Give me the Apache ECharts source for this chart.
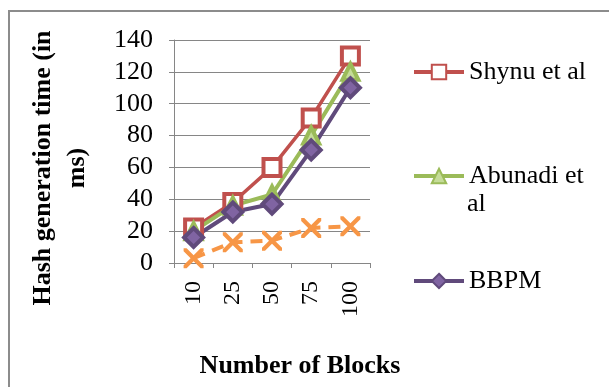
<!DOCTYPE html>
<html><head><meta charset="utf-8">
<script src="https://cdn.jsdelivr.net/npm/echarts@6/dist/echarts.min.js"></script>
<style>html,body{margin:0;padding:0;background:#fff}#c{width:609px;height:387px}</style>
</head><body><div id="c"></div>
<script>
const categories = ['10', '25', '50', '75', '100'];
const shynu = [22, 38, 60, 91, 130];
const abunadi = [20, 36, 43, 80, 120];
const bbpm = [16, 32, 37, 71, 110];
const other = [3, 13, 14, 22, 23];
const yTicks = [0, 20, 40, 60, 80, 100, 120, 140];

const FONT = '"Liberation Serif","Times New Roman",serif';
const xPath = 'path://M0,0 L3,0 L10,7 L17,0 L20,0 L20,3 L13,10 L20,17 L20,20 L17,20 L10,13 L3,20 L0,20 L0,17 L7,10 L0,3 Z';
const chart = echarts.init(document.getElementById('c'));
function leg(name, top) {
  return {
    data: [name], left: 412, top: top, orient: 'vertical', padding: 0,
    itemWidth: 50, itemHeight: 18, itemGap: 0, itemGap: 0,
    lineStyle: { width: 4 },
    textStyle: { fontFamily: FONT, fontSize: 26, color: '#000' },
    formatter: n => n === 'Abunadi et al' ? 'Abunadi et' : n
  };
}
chart.setOption({
  animation: false,
  graphic: [
    { type: 'rect', shape: { x: 9, y: 11, width: 620, height: 400 }, style: { fill: 'none', stroke: '#8c8c8c', lineWidth: 2 } },
    { type: 'text', x: 60, y: 168, rotation: Math.PI / 2,
      style: { text: 'Hash generation time (in\nms)', font: 'bold 26px ' + FONT, fill: '#000', align: 'center', verticalAlign: 'middle', lineHeight: 34 } },
    { type: 'text', x: 300, y: 366,
      style: { text: 'Number of Blocks', font: 'bold 26px ' + FONT, fill: '#000', align: 'center', verticalAlign: 'middle' } },
    { type: 'text', x: 467, y: 204,
      style: { text: 'al', font: '26px ' + FONT, fill: '#000', align: 'left', verticalAlign: 'middle' } }
  ],
  legend: [leg('Shynu et al', 59), leg('Abunadi et al', 163), leg('BBPM', 268)],
  grid: { left: 174, right: 239, top: 40, bottom: 124 },
  xAxis: {
    type: 'category', data: categories, boundaryGap: true,
    axisLine: { lineStyle: { color: '#868686', width: 1 } },
    axisTick: { show: true, length: 5, lineStyle: { color: '#868686' } },
    axisLabel: { rotate: 90, fontFamily: FONT, fontSize: 24, color: '#000', margin: 18 }
  },
  yAxis: {
    type: 'value', min: 0, max: 140, interval: 20,
    axisLine: { show: true, lineStyle: { color: '#868686' } },
    axisTick: { show: true, length: 5, lineStyle: { color: '#868686' } },
    splitLine: { lineStyle: { color: '#868686', width: 1 } },
    axisLabel: { fontFamily: FONT, fontSize: 26, color: '#000', margin: 21,
      formatter: v => yTicks.includes(v) ? String(v) : '' }
  },
  series: [
    { name: 'Shynu et al', type: 'line', data: shynu, symbol: 'rect', symbolSize: 17,
      lineStyle: { color: '#C0504D', width: 3.5 },
      itemStyle: { color: '#fff', borderColor: '#C0504D', borderWidth: 4 } },
    { name: 'Abunadi et al', type: 'line', data: abunadi, symbol: 'triangle', symbolSize: 16,
      lineStyle: { color: '#9BBB59', width: 4 },
      itemStyle: { color: '#c5dc98', borderColor: '#9BBB59', borderWidth: 4 } },
    { name: 'BBPM', type: 'line', data: bbpm, symbol: 'diamond', symbolSize: 19,
      lineStyle: { color: '#604A7B', width: 4 },
      itemStyle: { color: '#8064A2', borderColor: '#604A7B', borderWidth: 4 } },
    { name: 'Other', type: 'line', data: other, symbol: xPath, symbolSize: 20,
      lineStyle: { color: '#F79646', width: 4, type: [12, 8] },
      itemStyle: { color: '#F79646', borderWidth: 0 } }
  ]
});
</script></body></html>
